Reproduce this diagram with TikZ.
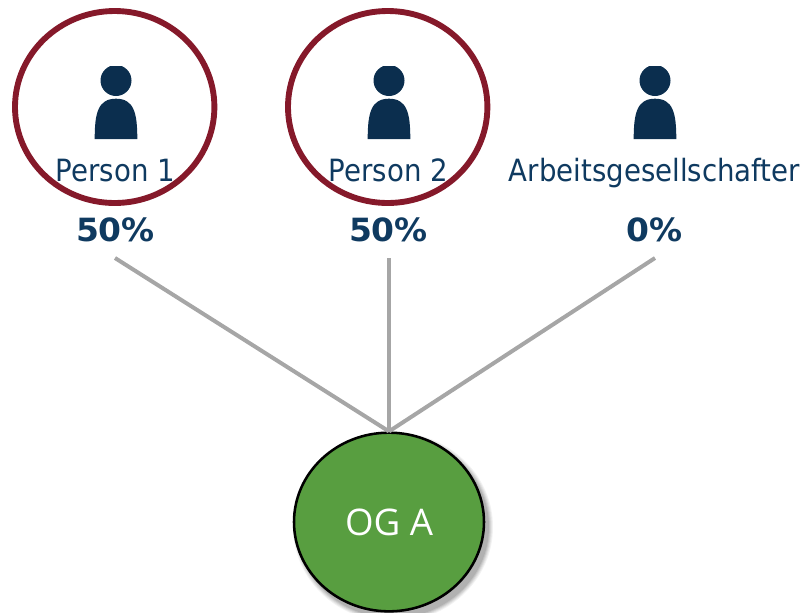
\documentclass[tikz,border=0pt]{standalone}
\usepackage{fontspec}
\setmainfont{DejaVu Sans}[FakeStretch=0.9]
\newfontfamily\pctfont{DejaVu Sans Bold}[FakeStretch=1.03]
\newfontfamily\ogfont{Open Sans}
\usetikzlibrary{shapes.geometric}
\definecolor{navy}{HTML}{0B2E4E}
\definecolor{labelblue}{HTML}{0F3A60}
\definecolor{ring}{HTML}{85192A}
\definecolor{linkgray}{HTML}{A6A6A6}
\definecolor{oggreen}{HTML}{589E40}
\tikzset{
  x=0.75pt,y=-0.75pt,
  namelabel/.style={text=labelblue,font=\fontsize{23pt}{26pt}\selectfont,inner sep=0pt,anchor=base},
  pctlabel/.style={text=labelblue,font=\pctfont\fontsize{24pt}{28pt}\selectfont,inner sep=0pt,anchor=base},
  ringline/.style={draw=ring,line width=4.4pt},
  link/.style={draw=linkgray,line width=3pt},
  ogshape/.style={shape=ellipse,draw=black,line width=1.9pt,fill=oggreen,inner sep=0pt,
    minimum width=142.5pt,minimum height=134pt,text=white,
    font=\ogfont\fontsize{27.5pt}{30pt}\selectfont},
  person/.pic={
    \begin{scope}
      \clip (-25,-16.3) rectangle (25,20);
      \fill[navy] (0,-2.5) circle [radius=15.5*0.75pt];
    \end{scope}
    \fill[navy] (-21.3,56) .. controls (-21.3,30) and (-18,15.7) .. (0,15.7)
      .. controls (18,15.7) and (21.3,30) .. (21.3,56) -- cycle;
  }
}
\begin{document}
\begin{tikzpicture}
\useasboundingbox (0,0) rectangle (804,612);
\coordinate (e1) at (115,258);
\coordinate (e2) at (389,258);
\coordinate (e3) at (655,258);
% shadow of the round node
\foreach \g/\o in {5/0.05,4/0.06,3/0.07,2/0.08,1/0.09}{
  \fill[black,opacity=\o] (393,527) ellipse [x radius=(95+\g)*0.75pt,y radius=(90+\g)*0.75pt];
}
\node[ogshape] (og) at (389,522) {\raisebox{-1.5pt}{OG A}};
\draw[link] (e1) -- (og.north);
\draw[link] (e2) -- (og.north);
\draw[link] (e3) -- (og.north);
% persons
\pic at (116,83) {person};
\pic at (389,83) {person};
\pic at (655,83) {person};
% labels
\node[namelabel] (n1) at (115.5,181) {Person 1};
\node[namelabel] (n2) at (388.5,181) {Person 2};
\node[namelabel] (n3) at (654.5,181) {Arbeitsgesellschafter};
\node[pctlabel] (p1) at (115.5,241) {50\%};
\node[pctlabel] (p2) at (388.5,241) {50\%};
\node[pctlabel] (p3) at (654.5,241) {0\%};
% rings
\draw[ringline] (114.7,107) ellipse [x radius=99.7*0.75pt,y radius=96*0.75pt];
\draw[ringline] (387.7,107) ellipse [x radius=99.7*0.75pt,y radius=96*0.75pt];
\end{tikzpicture}
\end{document}
